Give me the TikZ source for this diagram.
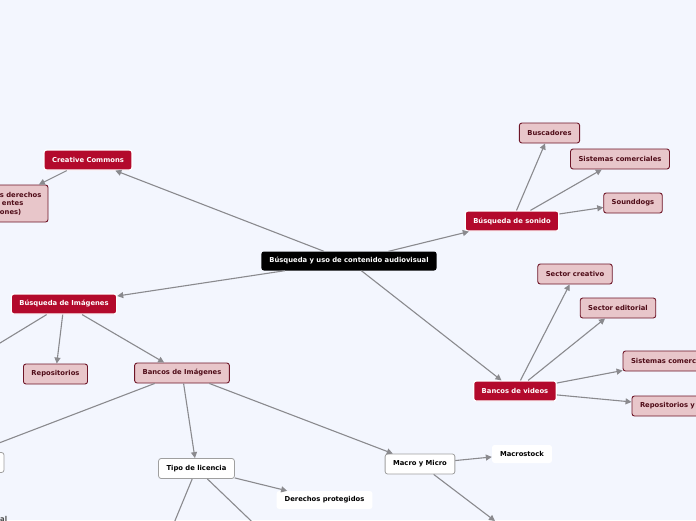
\documentclass[tikz,border=0pt]{standalone}
\usepackage{fontspec}
\setmainfont{DejaVu Sans}
\usetikzlibrary{arrows.meta}

\definecolor{bgblue}{HTML}{F3F6FE}
\definecolor{mainred}{HTML}{B30A2C}
\definecolor{pinkfill}{HTML}{E8C6CA}
\definecolor{pinkedge}{HTML}{6E1628}
\definecolor{pinktext}{HTML}{4F0C18}
\definecolor{linegray}{HTML}{8A8A8E}

\begin{document}
\begin{tikzpicture}[x=1pt, y=-1pt,
    font=\fontsize{6.8}{8.5}\selectfont\bfseries,
    >={Triangle[length=6pt,width=6pt]},
    box/.style={rounded corners=2.5pt, minimum height=20pt, inner xsep=8pt, inner ysep=2pt},
    central/.style={box, fill=black, text=white, minimum height=19pt},
    topic/.style={box, fill=mainred, text=white, draw=white, line width=1.2pt},
    leaf/.style={box, fill=pinkfill, draw=pinkedge, line width=0.9pt, text=pinktext},
    plain/.style={box, fill=white, draw=gray!75, line width=0.8pt, text=black},
    note/.style={box, fill=white, text=black, minimum height=18pt},
    link/.style={->, draw=linegray, line width=1.1pt}]

    \useasboundingbox (0,0) rectangle (696,520);
    \fill[bgblue] (0,0) rectangle (696,520);
    \clip (0,0) rectangle (696,520);

    % Central topic
    \node[central] (root) at (349,261) {Búsqueda y uso de contenido audiovisual};

    % Creative Commons
    \node[topic] (cc) at (88,160) {Creative Commons};
    \node[leaf, minimum height=37pt, text width=86pt, inner xsep=4pt, align=left] (derechos) at (1,203.5)
        {\hspace*{42pt}s derechos\\\hspace*{44pt}entes\\\hspace*{42pt}ones)};

    % Sound search
    \node[topic] (sonido) at (512,221) {Búsqueda de sonido};
    \node[leaf] (buscadores) at (549.5,133) {Buscadores};
    \node[leaf] (sistemas) at (620,159) {Sistemas comerciales};
    \node[leaf] (sounddogs) at (633,203) {Sounddogs};

    % Video banks
    \node[topic] (videos) at (515,391) {Bancos de videos};
    \node[leaf] (creativo) at (575,274) {Sector creativo};
    \node[leaf] (editorial) at (618,308) {Sector editorial};
    \node[leaf] (sistemasv) at (672.5,361) {Sistemas comerciales};
    \node[leaf, text width=70pt, align=left] (repos) at (675,406) {Repositorios y};

    % Image search
    \node[topic] (imagenes) at (64,304) {Búsqueda de Imágenes};
    \node[leaf] (repositorios) at (55.5,374) {Repositorios};
    \node[leaf] (bancos) at (182,373) {Bancos de Imágenes};
    \node[plain, minimum width=112pt] (otro) at (-52,462.5) {};
    \node[plain] (licencia) at (196.5,468.5) {Tipo de licencia};
    \node[note] (protegidos) at (324.5,500) {Derechos protegidos};
    \node[plain] (macro) at (420,464) {Macro y Micro};
    \node[note] (macrostock) at (522,454) {Macrostock};
    \node[anchor=north west, inner sep=0pt, text=black!70] (resto) at (0,516) {al};

    % free ends below and left of the frame
    \coordinate (offleft) at (-30,361.3);
    \coordinate (offdl) at (167,540);
    \coordinate (offdr) at (271,540);
    \coordinate (offmacro) at (495,521);

    % Connectors
    \draw[link] (root) -- (cc);
    \draw[link] (cc) -- (derechos);
    \draw[link] (root) -- (sonido);
    \draw[link] (root) -- (imagenes);
    \draw[link] (root) -- (videos);
    \draw[link] (sonido) -- (buscadores);
    \draw[link] (sonido) -- (sistemas);
    \draw[link] (sonido) -- (sounddogs);
    \draw[link] (videos) -- (creativo);
    \draw[link] (videos) -- (editorial);
    \draw[link] (videos) -- (sistemasv);
    \draw[link] (videos) -- (repos);
    \draw[link] (imagenes) -- (offleft);
    \draw[link] (imagenes) -- (repositorios);
    \draw[link] (imagenes) -- (bancos);
    \draw[link] (bancos) -- (otro);
    \draw[link] (bancos) -- (licencia);
    \draw[link] (bancos) -- (macro);
    \draw[link] (licencia) -- (protegidos);
    \draw[link] (licencia) -- (offdl);
    \draw[link] (licencia) -- (offdr);
    \draw[link] (macro) -- (macrostock);
    \draw[link] (macro) -- (offmacro);
\end{tikzpicture}
\end{document}
